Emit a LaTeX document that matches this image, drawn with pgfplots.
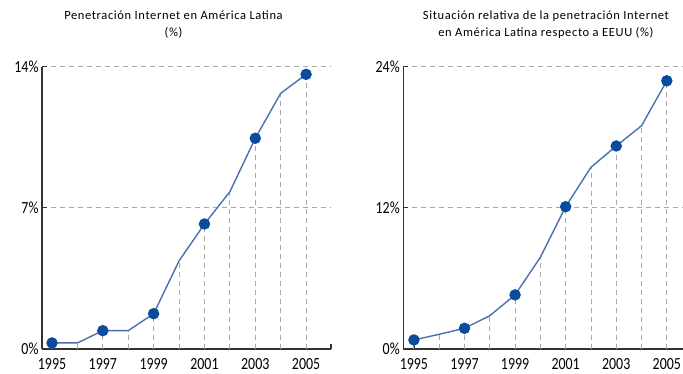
\documentclass[border=0pt]{standalone}
\usepackage{pgfplots}
\pgfplotsset{compat=1.18}
\usepackage{fontspec}
\setmainfont{Carlito}
\newfontfamily\cond[FakeStretch=0.82]{Carlito}
\newfontfamily\titfont[LetterSpace=5]{Carlito}
\definecolor{linec}{HTML}{4A70B0}
\definecolor{markc}{HTML}{0A4B9B}
\definecolor{gridc}{HTML}{A8A8A8}
\definecolor{axc}{HTML}{333333}
\pgfplotstableread{
year val
1995 0.30
1996 0.30
1997 0.91
1998 0.91
1999 1.75
2000 4.37
2001 6.20
2002 7.80
2003 10.45
2004 12.68
2005 13.62
}\tabL
\pgfplotstableread{
year val
1995 0.77
1996 1.25
1997 1.76
1998 2.83
1999 4.60
2000 7.80
2001 12.10
2002 15.45
2003 17.26
2004 18.98
2005 22.80
}\tabR
\pgfplotsset{
  mystyle/.style={
    scale only axis,
    height=282.3pt,
    axis lines=left,
    axis line style={axc, line width=1.1pt, -},
    ymin=0,
    tick align=inside,
    major tick length=5pt,
    xtick={1995,1996,...,2005},
    xticklabels={1995,,1997,,1999,,2001,,2003,,2005},
    x tick style={axc, line width=0.8pt},
    y tick style={axc, line width=1.1pt},
    ymajorgrids,
    major grid style={gridc, line width=0.9pt, dash pattern=on 5pt off 4pt},
    tick label style={font=\cond\fontsize{17}{17}\selectfont, text=black},
    xticklabel style={yshift=-6pt},
    clip=false,
    title style={font=\titfont\fontsize{12.5}{16.5}\selectfont, align=center, anchor=south, yshift=19pt},
  }
}
\begin{document}
\begin{tikzpicture}
\useasboundingbox (0,0) rectangle (683pt,374pt);
\begin{axis}[mystyle,
  at={(42pt,25pt)}, anchor=south west,
  width=289pt,
  xmin=1994.606, xmax=2005.98,
  ymax=14,
  ytick={0,7,14},
  yticklabels={0\%,7\%,14\%},
  extra x ticks={2005.98},
  extra x tick labels={},
  extra x tick style={x tick style={axc, line width=1.1pt}},
  title={Penetración Internet en América Latina\\(\%)},
  title style={at={(rel axis cs:0.455,1)}},
]
\addplot[ycomb, gridc, line width=0.9pt, dash pattern=on 5pt off 4pt] table[x=year,y=val] {\tabL};
\addplot[linec, line width=1.4pt, mark=*, mark repeat=2, mark size=5pt, mark options={markc, fill=markc}] table[x=year,y=val] {\tabL};
\end{axis}
\begin{axis}[mystyle,
  at={(403.3pt,25pt)}, anchor=south west,
  width=279.7pt,
  xmin=1994.58, xmax=2005.64,
  ymax=24,
  ytick={0,12,24},
  yticklabels={0\%,12\%,24\%},
  title={Situación relativa de la penetración Internet\\en América Latina respecto a EEUU (\%)},
  title style={at={(rel axis cs:0.51,1)}},
]
\addplot[ycomb, gridc, line width=0.9pt, dash pattern=on 5pt off 4pt] table[x=year,y=val] {\tabR};
\addplot[linec, line width=1.4pt, mark=*, mark repeat=2, mark size=5pt, mark options={markc, fill=markc}] table[x=year,y=val] {\tabR};
\end{axis}
\end{tikzpicture}
\end{document}
